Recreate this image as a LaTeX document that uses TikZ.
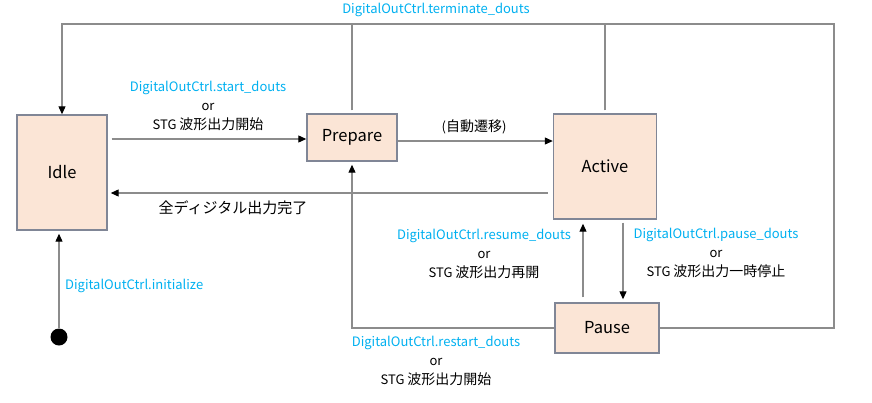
\documentclass[tikz,border=0pt]{standalone}
\usepackage{fontspec}
\setmainfont{Noto Sans CJK JP}
\usetikzlibrary{arrows.meta}

\definecolor{statefill}{RGB}{251,229,214}
\definecolor{stateline}{RGB}{128,134,150}
\definecolor{evblue}{RGB}{0,176,240}
\definecolor{wire}{RGB}{140,140,140}

\tikzset{
  state/.style={draw=stateline, line width=1.4pt, fill=statefill, font=\fontsize{16.5}{19}\selectfont, inner sep=0pt},
  wire/.style={draw=wire, line width=1.1pt},
  tr/.style={wire, -{Triangle[width=7pt,length=8pt,color=black]}},
  lbl/.style={font=\fontsize{13}{15}\selectfont, align=center, inner sep=0pt},
  ev/.style={text=evblue}
}
\newcommand{\jp}[1]{{\fontsize{14}{15}\selectfont #1}}

\begin{document}
\begin{tikzpicture}[x=1pt, y=-1pt]
\useasboundingbox (0,0) rectangle (872,402);

% States
\node[state, minimum width=90pt, minimum height=115pt] (idle) at (62,172.5) {Idle};
\node[state, minimum width=90pt, minimum height=47pt] (prepare) at (352,137.5) {Prepare};
\node[state, minimum width=103pt, minimum height=105pt] (active) at (605,166.5) {Active};
\node[state, minimum width=104pt, minimum height=50pt] (pause) at (607,328) {Pause};
\node[circle, fill=black, minimum size=17pt, inner sep=0pt] (init) at (59,337) {};

% Corners of the terminate loop
\coordinate (topleft) at (62,24);
\coordinate (topright) at (834,24);

% Initialize
\draw[tr, shorten >=3pt] (init) -- (init |- idle.south);
\node[lbl, ev, anchor=west] (initlbl) at (65,286) {DigitalOutCtrl.initialize};

% Idle -> Prepare
\draw[tr, shorten <=4pt] (idle.east |- 0,139) -- (prepare.west |- 0,139);
\node[lbl] (startlbl) at (208,106) {\textcolor{evblue}{DigitalOutCtrl.start\_douts}\\[4pt]or\\[4pt]STG \jp{波形出力開始}};

% Prepare -> Active
\draw[tr] (prepare.east |- 0,141) -- (active.west |- 0,141);
\node[lbl] (autolbl) at (474,127) {(\jp{自動遷移})};

% Active -> Idle
\draw[tr, shorten <=5pt, shorten >=3pt] (active.west |- 0,193) -- (idle.east |- 0,193);
\node[lbl, font=\fontsize{15}{17}\selectfont] (donelbl) at (233,208) {全ディジタル出力完了};

% Active <-> Pause
\draw[tr, shorten <=5pt, shorten >=4pt] (pause.north -| 583,0) -- (active.south -| 583,0);
\draw[tr, shorten <=3pt, shorten >=3pt] (active.south -| 623,0) -- (pause.north -| 623,0);
\node[lbl] (resumelbl) at (484,254) {\textcolor{evblue}{DigitalOutCtrl.resume\_douts}\\[4pt]or\\[4pt]STG \jp{波形出力再開}};
\node[lbl] (pauselbl) at (716,253) {\textcolor{evblue}{DigitalOutCtrl.pause\_douts}\\[4pt]or\\[4pt]STG \jp{波形出力一時停止}};

% Pause -> Prepare
\draw[tr, shorten >=3pt] (pause.west) -| (prepare.south);
\node[lbl] (restartlbl) at (436,361) {\textcolor{evblue}{DigitalOutCtrl.restart\_douts}\\[4pt]or\\[4pt]STG \jp{波形出力開始}};

% Terminate
\draw[tr] (pause.east) -| (topright) -- (topleft) -- (idle.north);
\draw[wire, shorten <=3pt] (prepare.north) -- (prepare.north |- topleft);
\draw[wire, shorten <=3pt] (active.north) -- (active.north |- topleft);
\node[lbl, ev] (termlbl) at (436,10) {DigitalOutCtrl.terminate\_douts};

\end{tikzpicture}
\end{document}
